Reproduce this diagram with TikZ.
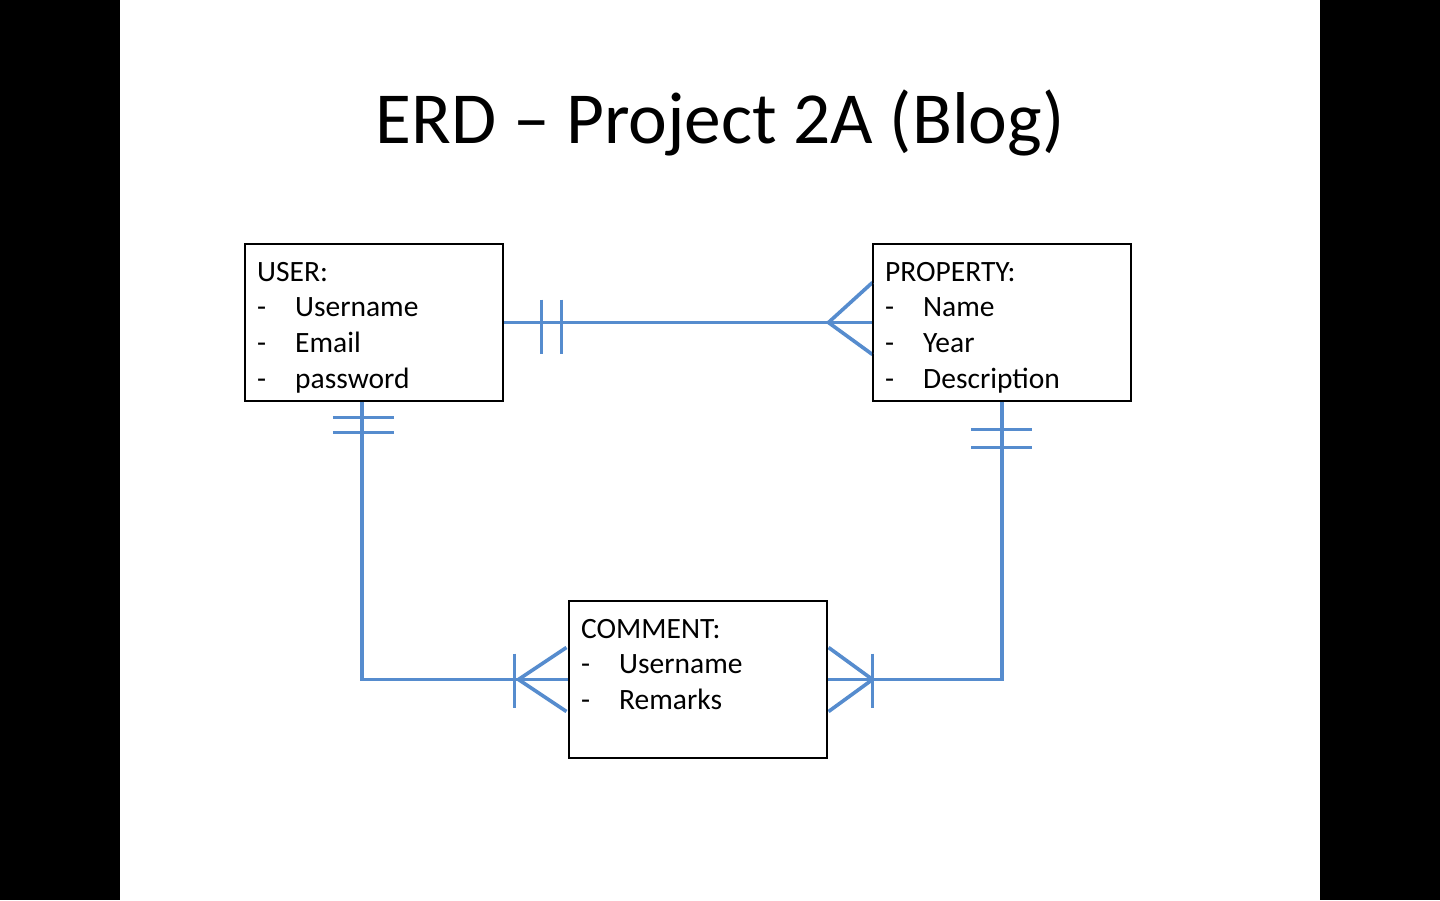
\documentclass[tikz,border=0pt]{standalone}
\usepackage{fontspec}
\setmainfont{Carlito}
\usepackage{array}
\usetikzlibrary{calc}
\definecolor{erblue}{RGB}{86,140,206}
\tikzset{
  entity/.style={draw=black, line width=1.1pt, fill=white, minimum width=258pt, minimum height=157pt, inner sep=0pt},
  etext/.style={anchor=base west, inner sep=0pt, font=\fontsize{29.5}{35.7}\selectfont},
  rel/.style={draw=erblue, line width=3.6pt},
}
\newcommand{\entitylines}[2]{\begin{tabular}[t]{@{}p{38pt}@{}l@{}}\multicolumn{2}{@{}l@{}}{#1}\\#2\end{tabular}}
\begin{document}
\begin{tikzpicture}[x=1pt,y=-1pt]
\useasboundingbox (0,0) rectangle (1440,900);
\fill[black] (0,0) rectangle (1440,900);
\fill[white] (120,0) rectangle (1320,900);

\node[inner sep=0pt, anchor=base, font=\fontsize{73.4}{88}\selectfont] (title) at (720,143) {ERD – Project 2A (Blog)};

\node[entity] (user) at (374,322.5) {};
\node[entity] (prop) at (1002,322.5) {};
\node[entity] (comment) at (698,679.5) {};

\node[etext] (usertxt) at (257,281) {\entitylines{USER:}{-&Username\\-&Email\\-&password}};
\node[etext] (proptxt) at (885,281) {\entitylines{PROPERTY:}{-&Name\\-&Year\\-&Description}};
\node[etext] (commenttxt) at (581,638) {\entitylines{COMMENT:}{-&Username\\-&Remarks}};

% USER -- PROPERTY (one to many)
\draw[rel] (user.east) -- (prop.west);
\draw[rel] ($(user.east)+(38,-23)$) -- ($(user.east)+(38,31)$);
\draw[rel] ($(user.east)+(58,-23)$) -- ($(user.east)+(58,31)$);
\draw[rel] ($(prop.west)+(0,-40)$) -- ($(prop.west)+(-44,0)$) -- ($(prop.west)+(0,32)$);

% USER -- COMMENT
\coordinate (ucorner) at ($(user.south west)!0.453!(user.south east)$);
\draw[rel] (ucorner) |- (comment.west);
\draw[rel] ($(ucorner)+(-29,16)$) -- ($(ucorner)+(32,16)$);
\draw[rel] ($(ucorner)+(-29,31)$) -- ($(ucorner)+(32,31)$);
\draw[rel] ($(comment.west)+(-54,-26)$) -- ($(comment.west)+(-54,28)$);
\draw[rel] ($(comment.west)+(-2,-32)$) -- ($(comment.west)+(-50,0)$) -- ($(comment.west)+(-2,32)$);

% PROPERTY -- COMMENT
\draw[rel] (prop.south) |- (comment.east);
\draw[rel] ($(prop.south)+(-31,28)$) -- ($(prop.south)+(30,28)$);
\draw[rel] ($(prop.south)+(-31,46)$) -- ($(prop.south)+(30,46)$);
\draw[rel] ($(comment.east)+(45,-26)$) -- ($(comment.east)+(45,28)$);
\draw[rel] ($(comment.east)+(1,-32)$) -- ($(comment.east)+(45,0)$) -- ($(comment.east)+(1,32)$);

% redraw borders over line ends
\draw[line width=1.1pt] (user.north west) rectangle (user.south east);
\draw[line width=1.1pt] (prop.north west) rectangle (prop.south east);
\draw[line width=1.1pt] (comment.north west) rectangle (comment.south east);
\end{tikzpicture}
\end{document}
